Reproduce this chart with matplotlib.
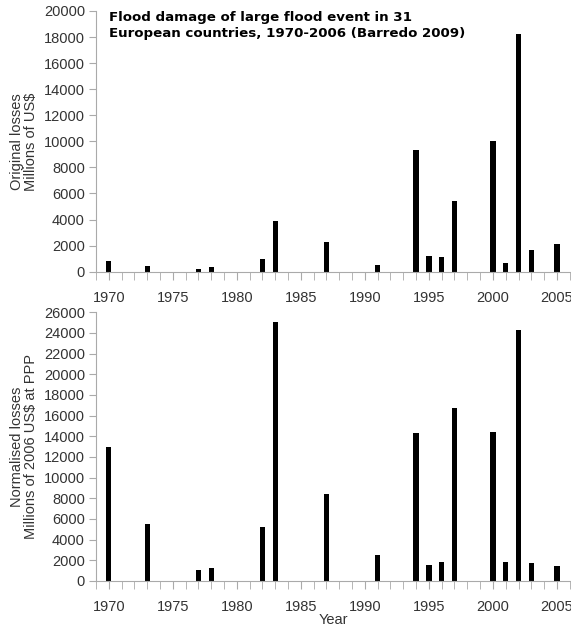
import matplotlib.pyplot as plt
import numpy as np

plt.rcParams['font.family'] = ['Liberation Sans', 'DejaVu Sans']

years = [1970, 1973, 1977, 1978, 1982, 1983, 1987, 1991, 1994, 1995,
         1996, 1997, 2000, 2001, 2002, 2003, 2005]
original = [850, 400, 180, 380, 950, 3900, 2300, 500, 9300, 1200,
            1100, 5400, 10000, 700, 18250, 1650, 2100]
normalised = [13000, 5550, 1100, 1250, 5200, 25100, 8450, 2500, 14300, 1500,
              1870, 16750, 14400, 1840, 24300, 1700, 1420]

title = 'Flood damage of large flood event in 31\nEuropean countries, 1970-2006 (Barredo 2009)'

W, H = 571, 628
fig = plt.figure(figsize=(W / 100, H / 100), dpi=100)
ax1 = fig.add_axes([96 / W, 1 - 271.7 / H, (W - 96) / W, (271.7 - 11) / H])
ax2 = fig.add_axes([96 / W, 1 - 581 / H, (W - 96) / W, (581 - 312.3) / H])

txtc = '#333333'
gray = '#aaaaaa'
for ax, vals, top, lab in [(ax1, original, 20000, 'Original losses\nMillions of US$'),
                           (ax2, normalised, 26000, 'Normalised losses\nMillions of 2006 US$ at PPP')]:
    ax.bar(years, vals, width=0.42, color='black')
    ax.set_xlim(1969, 2006.1)
    ax.set_ylim(0, top)
    ax.set_yticks(np.arange(0, top + 1, 2000))
    ax.set_xticks(np.arange(1970, 2006, 5))
    ax.set_xticks(np.arange(1969, 2007), minor=True)
    for s in ['top', 'right']:
        ax.spines[s].set_visible(False)
    for s in ['left', 'bottom']:
        ax.spines[s].set_color(gray)
    ax.tick_params(axis='both', which='both', colors=gray, labelcolor=txtc, labelsize=10.5)
    ax.tick_params(axis='x', which='both', length=6, pad=8)
    ax.tick_params(axis='y', length=5, pad=3)
    ax.set_ylabel(lab, fontsize=10.5, color=txtc, labelpad=4, linespacing=1.0)

ax2.set_xlabel('Year', fontsize=10.5, color=txtc, labelpad=-1)
fig.text(109 / W, 1 - 10.5 / H, title, fontsize=9.6, fontweight='bold',
         family='DejaVu Sans', va='top', ha='left', linespacing=1.3)

fig.savefig('out.png', dpi=100)
